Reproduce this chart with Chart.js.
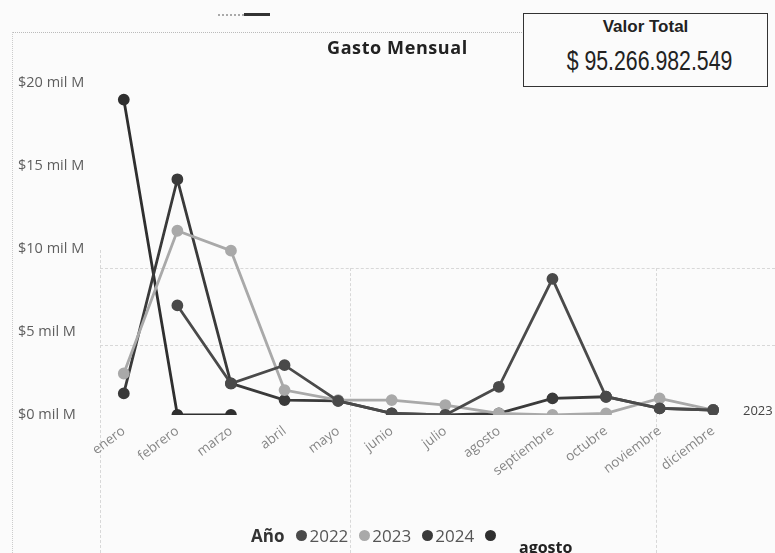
<!DOCTYPE html>
<html>
<head>
<meta charset="utf-8">
<script src="https://cdn.jsdelivr.net/npm/chart.js@4"></script>
<style>
  html,body{margin:0;padding:0;background:#fbfbfb;}
  #wrap{position:relative;width:775px;height:553px;overflow:hidden;font-family:"Open Sans",sans-serif;background:#fbfbfb;}
  #c{position:absolute;left:0;top:0;}
  .abs{position:absolute;white-space:nowrap;}
  .hl{position:absolute;height:0;border-top:1px dashed #d8d8d8;}
  .vl{position:absolute;width:0;border-left:1px dashed #d8d8d8;}
</style>
</head>
<body>
<div id="wrap">
  <!-- faint frame / background lines -->
  <div class="hl" style="left:12px;top:32px;width:512px;border-top:1px dotted #bbb;"></div>
  <div class="vl" style="left:12px;top:32px;height:521px;border-left:1px dotted #ccc;"></div>
  <div class="hl" style="left:100px;top:268px;width:675px;"></div>
  <div class="hl" style="left:100px;top:345px;width:675px;"></div>
  <div class="vl" style="left:100px;top:250px;height:303px;"></div>
  <div class="vl" style="left:350px;top:268px;height:285px;"></div>
  <div class="vl" style="left:656px;top:268px;height:285px;"></div>
  <!-- top focus icon -->
  <div class="abs" style="left:218px;top:14px;width:26px;height:0;border-top:2px dotted #aaa;"></div>
  <div class="abs" style="left:244px;top:13px;width:26px;height:3px;background:#333;"></div>
  <canvas id="c" width="775" height="553"></canvas>
  <div class="abs" style="left:327px;top:35px;font-size:18px;letter-spacing:0.6px;font-weight:700;color:#222;">Gasto Mensual</div>
  <div class="abs" style="left:523px;top:13px;width:245px;height:74px;border:1.5px solid #333;box-sizing:border-box;background:#fbfbfb;"></div>
  <div class="abs" style="left:523px;top:17px;width:245px;text-align:center;font-family:'Liberation Sans Narrow','Liberation Sans',sans-serif;font-weight:700;font-size:17px;color:#222;">Valor Total</div>
  <div class="abs" style="left:527px;top:45px;width:245px;text-align:center;font-family:'Liberation Sans Narrow','Liberation Sans',sans-serif;font-size:28px;color:#222;transform:scaleX(0.76);transform-origin:center;">$ 95.266.982.549</div>
  <div class="abs" style="left:743px;top:401px;font-size:13px;color:#444;">2023</div>
  <div id="legend" class="abs" style="left:251px;top:524px;font-size:17px;color:#555;display:flex;align-items:center;"></div>
  <div class="abs" style="left:519px;top:536px;font-size:16px;font-weight:700;color:#222;">agosto</div>
</div>
<script>
const months = ['enero','febrero','marzo','abril','mayo','junio','julio','agosto','septiembre','octubre','noviembre','diciembre'];
const years = ['2022','2023','2024','2025'];
const v2022 = [null, 6.6, 1.9, 3.0, 0.85, 0.1, 0, 1.7, 8.2, 1.1, 0.4, 0.3];
const v2023 = [2.5, 11.1, 9.9, 1.5, 0.9, 0.9, 0.6, 0.1, 0, 0.1, 1.0, 0.3];
const v2024 = [1.3, 14.2, 1.9, 0.9, 0.85, 0.1, 0, 0.1, 1.0, 1.1, 0.4, 0.3];
const v2025 = [19.0, 0, 0, null, null, null, null, null, null, null, null, null];
const yTicks = [0, 5, 10, 15, 20];
const colors = ['#4a4a4a', '#a9a9a9', '#3a3a3a', '#2f2f2f'];
const series = [v2022, v2023, v2024, v2025];

const datasets = series.map((d, i) => ({
  label: years[i],
  data: d,
  borderColor: colors[i],
  backgroundColor: colors[i],
  pointBackgroundColor: colors[i],
  pointBorderColor: colors[i],
  borderWidth: 2.8,
  pointRadius: 4.5,
  tension: 0,
  spanGaps: false
}));

// legend
const lg = document.getElementById('legend');
lg.innerHTML = '<span style="font-weight:700;color:#333;margin-right:12px;">Año</span>' +
  years.map((y, i) => '<span style="display:inline-flex;align-items:center;margin-right:11px;"><span style="display:inline-block;width:11px;height:11px;border-radius:50%;background:' + colors[i] + ';margin-right:2px;"></span>' + (i < 3 ? y : '') + '</span>').join('');

new Chart(document.getElementById('c'), {
  type: 'line',
  data: { labels: months, datasets },
  options: {
    responsive: false,
    animation: false,
    layout: { padding: { left: 18, right: 35, top: 83, bottom: 78 } },
    plugins: { legend: { display: false }, tooltip: { enabled: false } },
    scales: {
      x: {
        offset: true,
        grid: { display: false },
        border: { display: false },
        ticks: { color: '#858585', font: { family: 'Open Sans', size: 13.5 }, minRotation: 37, maxRotation: 37, autoSkip: false, padding: 0 },
        afterFit: s => { s.height = 60; }
      },
      y: {
        min: 0, max: 20,
        afterBuildTicks: s => { s.ticks = yTicks.map(v => ({ value: v })); },
        grid: { display: false },
        border: { display: false },
        ticks: { color: '#5e5e5e', font: { family: 'Open Sans', size: 14.5 }, crossAlign: 'far', callback: v => '$' + v + ' mil M' },
        afterFit: s => { s.width = 79; }
      }
    }
  }
});
</script>
</body>
</html>
